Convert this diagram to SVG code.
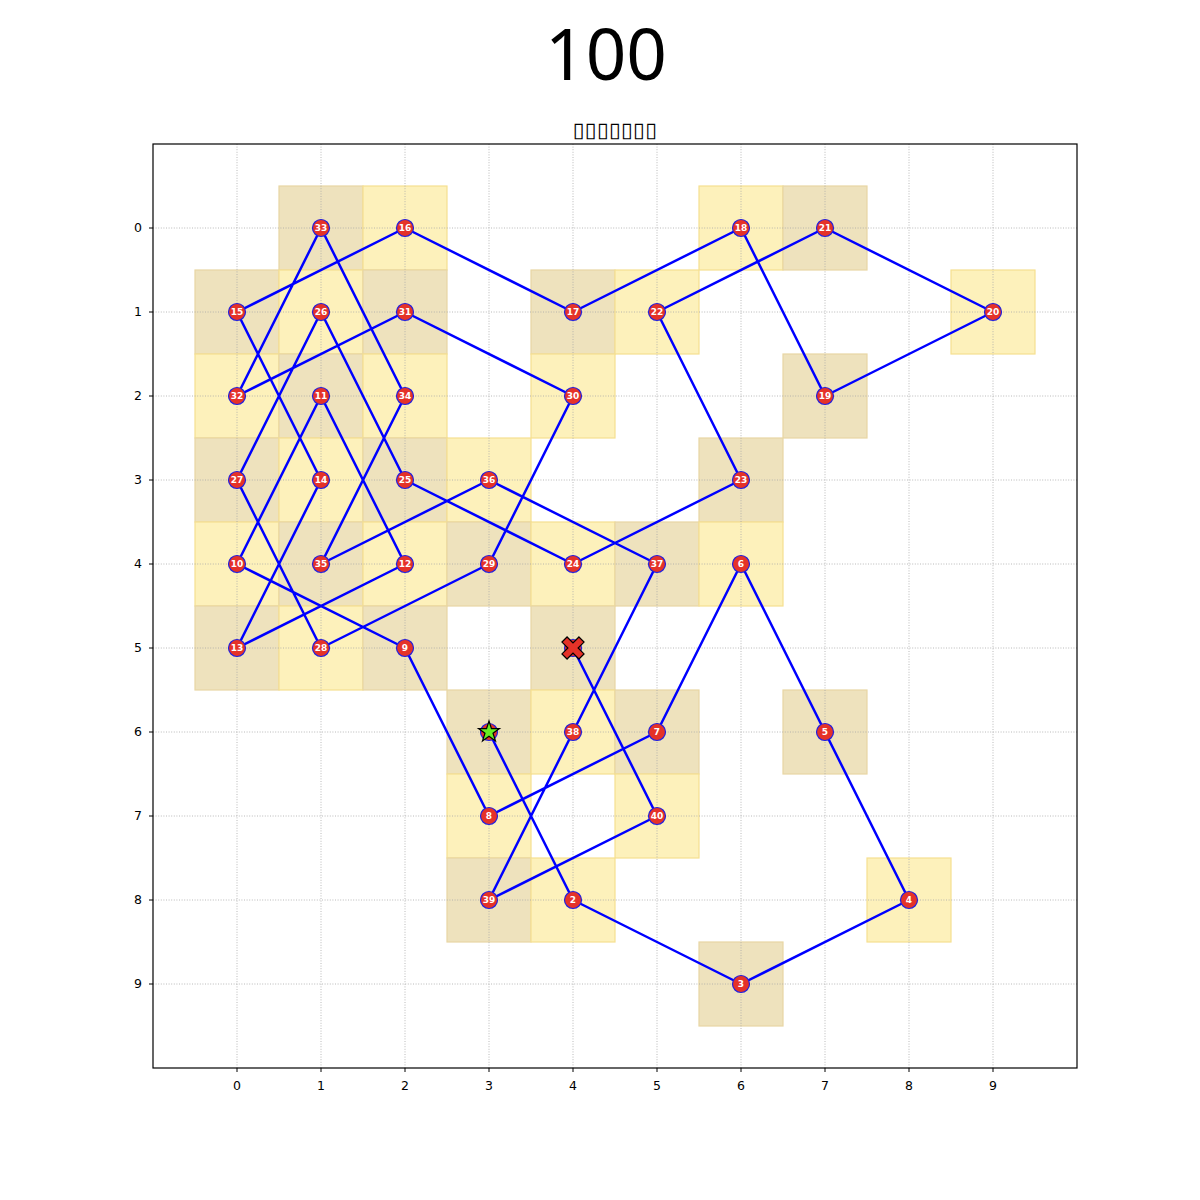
<svg xmlns="http://www.w3.org/2000/svg" width="1200" height="1200" viewBox="0 0 1200 1200">
<style>
.bg{fill:#ffffff}
.ty{fill:#fdf1bb;stroke:#f6df90;stroke-width:1.2}
.tt{fill:#eee2bd;stroke:#e8d6a3;stroke-width:1.2}
.grid{stroke:#a8a8a8;stroke-width:0.8;stroke-dasharray:1,1.6;fill:none}
.frame{fill:none;stroke:#000;stroke-width:1.2}
.tick{stroke:#000;stroke-width:1}
.tl{font-family:"DejaVu Sans",sans-serif;font-size:12.5px;fill:#000}
.edge{stroke:#0000ff;stroke-width:2.5;fill:none;stroke-linejoin:round;stroke-linecap:round}
.node circle{fill:#e53228;stroke:#2020e0;stroke-width:1.2}
.node text{font-family:"DejaVu Sans",sans-serif;font-size:9px;font-weight:bold;fill:#fff;text-anchor:middle}
</style>
<rect class="bg" x="0" y="0" width="1200" height="1200"/>
<text x="606" y="80" font-family="Noto Sans, DejaVu Sans, sans-serif" font-size="71" text-anchor="middle" fill="#000">100</text>
<text x="615" y="137" font-family="DejaVu Sans, sans-serif" font-size="21" letter-spacing="0.5" text-anchor="middle" fill="#000">▯▯▯▯▯▯▯</text>
<g id="cells">
<rect class="tt" x="279" y="186" width="84" height="84"/>
<rect class="ty" x="363" y="186" width="84" height="84"/>
<rect class="ty" x="699" y="186" width="84" height="84"/>
<rect class="tt" x="783" y="186" width="84" height="84"/>
<rect class="tt" x="195" y="270" width="84" height="84"/>
<rect class="ty" x="279" y="270" width="84" height="84"/>
<rect class="tt" x="363" y="270" width="84" height="84"/>
<rect class="tt" x="531" y="270" width="84" height="84"/>
<rect class="ty" x="615" y="270" width="84" height="84"/>
<rect class="ty" x="951" y="270" width="84" height="84"/>
<rect class="ty" x="195" y="354" width="84" height="84"/>
<rect class="tt" x="279" y="354" width="84" height="84"/>
<rect class="ty" x="363" y="354" width="84" height="84"/>
<rect class="ty" x="531" y="354" width="84" height="84"/>
<rect class="tt" x="783" y="354" width="84" height="84"/>
<rect class="tt" x="195" y="438" width="84" height="84"/>
<rect class="ty" x="279" y="438" width="84" height="84"/>
<rect class="tt" x="363" y="438" width="84" height="84"/>
<rect class="ty" x="447" y="438" width="84" height="84"/>
<rect class="tt" x="699" y="438" width="84" height="84"/>
<rect class="ty" x="195" y="522" width="84" height="84"/>
<rect class="tt" x="279" y="522" width="84" height="84"/>
<rect class="ty" x="363" y="522" width="84" height="84"/>
<rect class="tt" x="447" y="522" width="84" height="84"/>
<rect class="ty" x="531" y="522" width="84" height="84"/>
<rect class="tt" x="615" y="522" width="84" height="84"/>
<rect class="ty" x="699" y="522" width="84" height="84"/>
<rect class="tt" x="195" y="606" width="84" height="84"/>
<rect class="ty" x="279" y="606" width="84" height="84"/>
<rect class="tt" x="363" y="606" width="84" height="84"/>
<rect class="tt" x="531" y="606" width="84" height="84"/>
<rect class="tt" x="447" y="690" width="84" height="84"/>
<rect class="ty" x="531" y="690" width="84" height="84"/>
<rect class="tt" x="615" y="690" width="84" height="84"/>
<rect class="tt" x="783" y="690" width="84" height="84"/>
<rect class="ty" x="447" y="774" width="84" height="84"/>
<rect class="ty" x="615" y="774" width="84" height="84"/>
<rect class="tt" x="447" y="858" width="84" height="84"/>
<rect class="ty" x="531" y="858" width="84" height="84"/>
<rect class="ty" x="867" y="858" width="84" height="84"/>
<rect class="tt" x="699" y="942" width="84" height="84"/>
</g>
<g id="grid" class="grid">
<path d="M237 144V1068M321 144V1068M405 144V1068M489 144V1068M573 144V1068M657 144V1068M741 144V1068M825 144V1068M909 144V1068M993 144V1068"/>
<path d="M153 228H1077M153 312H1077M153 396H1077M153 480H1077M153 564H1077M153 648H1077M153 732H1077M153 816H1077M153 900H1077M153 984H1077"/>
</g>
<rect class="frame" x="153" y="144" width="924" height="924"/>
<g id="ticks" class="tick">
<path d="M237 1068v4M321 1068v4M405 1068v4M489 1068v4M573 1068v4M657 1068v4M741 1068v4M825 1068v4M909 1068v4M993 1068v4"/>
<path d="M153 228h-4M153 312h-4M153 396h-4M153 480h-4M153 564h-4M153 648h-4M153 732h-4M153 816h-4M153 900h-4M153 984h-4"/>
</g>
<g id="xlabels" class="tl" text-anchor="middle">
<text x="237" y="1090">0</text><text x="321" y="1090">1</text><text x="405" y="1090">2</text><text x="489" y="1090">3</text><text x="573" y="1090">4</text><text x="657" y="1090">5</text><text x="741" y="1090">6</text><text x="825" y="1090">7</text><text x="909" y="1090">8</text><text x="993" y="1090">9</text>
</g>
<g id="ylabels" class="tl" text-anchor="end">
<text x="142" y="232">0</text><text x="142" y="316">1</text><text x="142" y="400">2</text><text x="142" y="484">3</text><text x="142" y="568">4</text><text x="142" y="652">5</text><text x="142" y="736">6</text><text x="142" y="820">7</text><text x="142" y="904">8</text><text x="142" y="988">9</text>
</g>
<g id="connectors">
<polyline class="edge" points="489,732 573,900 741,984 909,900 825,732 741,564 657,732 489,816 405,648 237,564 321,396 405,564 237,648 321,480 237,312 405,228 573,312 741,228 825,396 993,312 825,228 657,312 741,480 573,564 405,480 321,312 237,480 321,648 489,564 573,396 405,312 237,396 321,228 405,396 321,564 489,480 657,564 573,732 489,900 657,816 573,648"/>
</g>
<g id="nodes">
<g class="node" id="n1"><circle cx="489" cy="732" r="8.5"/></g>
<g class="node" id="n2"><circle cx="573" cy="900" r="8.5"/><text x="573" y="903.2">2</text></g>
<g class="node" id="n3"><circle cx="741" cy="984" r="8.5"/><text x="741" y="987.2">3</text></g>
<g class="node" id="n4"><circle cx="909" cy="900" r="8.5"/><text x="909" y="903.2">4</text></g>
<g class="node" id="n5"><circle cx="825" cy="732" r="8.5"/><text x="825" y="735.2">5</text></g>
<g class="node" id="n6"><circle cx="741" cy="564" r="8.5"/><text x="741" y="567.2">6</text></g>
<g class="node" id="n7"><circle cx="657" cy="732" r="8.5"/><text x="657" y="735.2">7</text></g>
<g class="node" id="n8"><circle cx="489" cy="816" r="8.5"/><text x="489" y="819.2">8</text></g>
<g class="node" id="n9"><circle cx="405" cy="648" r="8.5"/><text x="405" y="651.2">9</text></g>
<g class="node" id="n10"><circle cx="237" cy="564" r="8.5"/><text x="237" y="567.2">10</text></g>
<g class="node" id="n11"><circle cx="321" cy="396" r="8.5"/><text x="321" y="399.2">11</text></g>
<g class="node" id="n12"><circle cx="405" cy="564" r="8.5"/><text x="405" y="567.2">12</text></g>
<g class="node" id="n13"><circle cx="237" cy="648" r="8.5"/><text x="237" y="651.2">13</text></g>
<g class="node" id="n14"><circle cx="321" cy="480" r="8.5"/><text x="321" y="483.2">14</text></g>
<g class="node" id="n15"><circle cx="237" cy="312" r="8.5"/><text x="237" y="315.2">15</text></g>
<g class="node" id="n16"><circle cx="405" cy="228" r="8.5"/><text x="405" y="231.2">16</text></g>
<g class="node" id="n17"><circle cx="573" cy="312" r="8.5"/><text x="573" y="315.2">17</text></g>
<g class="node" id="n18"><circle cx="741" cy="228" r="8.5"/><text x="741" y="231.2">18</text></g>
<g class="node" id="n19"><circle cx="825" cy="396" r="8.5"/><text x="825" y="399.2">19</text></g>
<g class="node" id="n20"><circle cx="993" cy="312" r="8.5"/><text x="993" y="315.2">20</text></g>
<g class="node" id="n21"><circle cx="825" cy="228" r="8.5"/><text x="825" y="231.2">21</text></g>
<g class="node" id="n22"><circle cx="657" cy="312" r="8.5"/><text x="657" y="315.2">22</text></g>
<g class="node" id="n23"><circle cx="741" cy="480" r="8.5"/><text x="741" y="483.2">23</text></g>
<g class="node" id="n24"><circle cx="573" cy="564" r="8.5"/><text x="573" y="567.2">24</text></g>
<g class="node" id="n25"><circle cx="405" cy="480" r="8.5"/><text x="405" y="483.2">25</text></g>
<g class="node" id="n26"><circle cx="321" cy="312" r="8.5"/><text x="321" y="315.2">26</text></g>
<g class="node" id="n27"><circle cx="237" cy="480" r="8.5"/><text x="237" y="483.2">27</text></g>
<g class="node" id="n28"><circle cx="321" cy="648" r="8.5"/><text x="321" y="651.2">28</text></g>
<g class="node" id="n29"><circle cx="489" cy="564" r="8.5"/><text x="489" y="567.2">29</text></g>
<g class="node" id="n30"><circle cx="573" cy="396" r="8.5"/><text x="573" y="399.2">30</text></g>
<g class="node" id="n31"><circle cx="405" cy="312" r="8.5"/><text x="405" y="315.2">31</text></g>
<g class="node" id="n32"><circle cx="237" cy="396" r="8.5"/><text x="237" y="399.2">32</text></g>
<g class="node" id="n33"><circle cx="321" cy="228" r="8.5"/><text x="321" y="231.2">33</text></g>
<g class="node" id="n34"><circle cx="405" cy="396" r="8.5"/><text x="405" y="399.2">34</text></g>
<g class="node" id="n35"><circle cx="321" cy="564" r="8.5"/><text x="321" y="567.2">35</text></g>
<g class="node" id="n36"><circle cx="489" cy="480" r="8.5"/><text x="489" y="483.2">36</text></g>
<g class="node" id="n37"><circle cx="657" cy="564" r="8.5"/><text x="657" y="567.2">37</text></g>
<g class="node" id="n38"><circle cx="573" cy="732" r="8.5"/><text x="573" y="735.2">38</text></g>
<g class="node" id="n39"><circle cx="489" cy="900" r="8.5"/><text x="489" y="903.2">39</text></g>
<g class="node" id="n40"><circle cx="657" cy="816" r="8.5"/><text x="657" y="819.2">40</text></g>
<g class="node" id="n41"><circle cx="573" cy="648" r="8.5"/></g>
</g>
<g id="start">
<polygon points="489,721 491.47,728.6 499.46,728.6 492.99,733.3 495.47,740.9 489,736.2 482.53,740.9 485.01,733.3 478.54,728.6 486.53,728.6" fill="#66ee22" stroke="#000" stroke-width="1.2" stroke-linejoin="miter"/>
</g>
<g id="end">
<polygon transform="translate(573 648) rotate(45)" points="-3.6,-12 3.6,-12 3.6,-3.6 12,-3.6 12,3.6 3.6,3.6 3.6,12 -3.6,12 -3.6,3.6 -12,3.6 -12,-3.6 -3.6,-3.6" fill="#e53228" stroke="#000" stroke-width="1.2"/>
</g>
</svg>
